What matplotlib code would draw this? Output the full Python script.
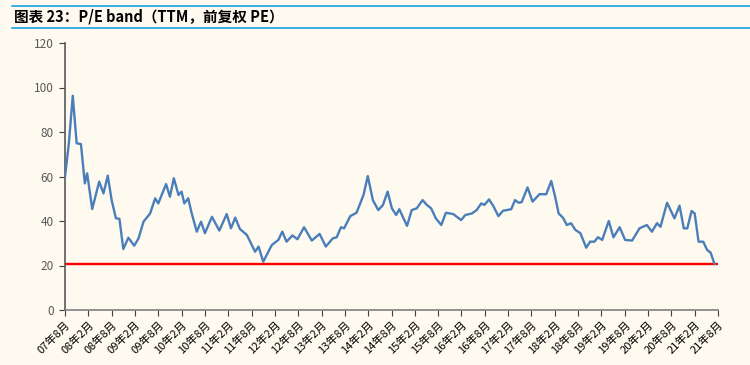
import matplotlib
matplotlib.use("Agg")
import matplotlib.pyplot as plt
from matplotlib.lines import Line2D

plt.rcParams['font.family'] = ['Noto Sans CJK SC', 'DejaVu Sans']

# months elapsed since 2007-08 and the PE values
months = [0, 1, 2, 3, 4.1, 5.1, 5.7, 7, 8.8, 9.9, 11, 12, 13.1, 14, 15, 16.3, 17.8, 18.9,
          20.2, 21.9, 23.2, 24, 26, 27, 28, 29.2, 30, 30.7, 31.7, 32.6, 33.9, 35, 36,
          37.8, 39.7, 41.6, 42.7, 43.8, 45, 46.8, 48.9, 49.8, 51, 53.2, 54.9, 55.9, 57,
          58.5, 59.8, 61.5, 63.5, 65.5, 67.1, 68.9, 69.9, 71, 71.8, 73.4, 75, 76.8, 77.9,
          79.2, 80.6, 81.8, 83, 84.1, 85.2, 86, 88, 89.2, 90.5, 92, 93.1, 94.2, 95.4,
          96.8, 98, 99.9, 101.9, 103, 104.7, 105.9, 107.1, 107.9, 109.1, 110.2, 111.5,
          112.7, 114.8, 115.8, 116.7, 117.5, 119, 120.3, 122.1, 123.8, 125.1, 126.1, 127,
          128.1, 129.1, 130.2, 131.3, 132.6, 134.1, 135.1, 136.2, 137.1, 138.2, 139.9,
          141.1, 142.7, 144.1, 145.9, 147.8, 149.7, 151, 152.3, 153.2, 154.9, 156.8,
          158.1, 159.2, 160.1, 161.2, 162, 163, 164.2, 165.2, 166.1, 167.1]
pe = [59.9, 75, 96.3, 74.9, 74.6, 56.9, 61.4, 45.4, 57.7, 52.4, 60.4, 49.4, 41.2, 41, 27.4,
      32.5, 28.9, 32.1, 39.7, 43.4, 50.2, 47.9, 56.6, 50.9, 59.2, 51.7, 53.2, 47.9, 50.2,
      43.4, 35.2, 39.7, 34.5, 41.9, 35.7, 43.1, 36.7, 41.5, 36.4, 33.7, 26.2, 28.5, 21.7,
      29.2, 31.5, 35.2, 30.7, 33.5, 31.8, 37.2, 31.2, 34.2, 28.5, 32.2, 32.7, 37.2, 36.7,
      42.2, 43.7, 51.7, 60.2, 49.4, 44.9, 47.2, 53.2, 45.7, 42.7, 45.3, 37.8, 44.9, 45.7,
      49.4, 47.2, 45.7, 41.2, 38.2, 43.7, 43.1, 40.4, 42.7, 43.4, 44.9, 47.9, 47.2, 49.7,
      46.7, 42.2, 44.6, 45.3, 49.4, 48.2, 48.5, 55.1, 48.7, 52.1, 52, 58, 50.9, 43.4, 41.5,
      38.2, 39, 36, 34.5, 28, 30.7, 30.7, 32.7, 31.5, 40, 32.7, 37.2, 31.5, 31.2, 36.7,
      38.2, 35.2, 39, 37.4, 48.2, 41.2, 46.9, 36.7, 36.7, 44.5, 43.4, 30.7, 30.7, 27, 25.8,
      20.7]

band_value = 20.6
band_span = [0, 168]

tick_labels = ['07年8月', '08年2月', '08年8月', '09年2月', '09年8月', '10年2月', '10年8月',
               '11年2月', '11年8月', '12年2月', '12年8月', '13年2月', '13年8月', '14年2月',
               '14年8月', '15年2月', '15年8月', '16年2月', '16年8月', '17年2月', '17年8月',
               '18年2月', '18年8月', '19年2月', '19年8月', '20年2月', '20年8月', '21年2月',
               '21年8月']
tick_pos = [6 * i for i in range(len(tick_labels))]

bg = '#FEFAEF'
fig = plt.figure(figsize=(7.5, 3.65), dpi=100, facecolor=bg)
ax = fig.add_axes([65 / 750, 1 - 310 / 365, (718 - 65) / 750, (310 - 43) / 365])
ax.set_facecolor(bg)

ax.plot(months, pe, color='#4A7EBB', lw=1.7, solid_joinstyle='round', zorder=3)
ax.plot(band_span, [band_value, band_value], color='#FF0000', lw=1.7, zorder=2)

ax.set_xlim(0, 168)
ax.set_ylim(0, 120)
ax.set_yticks(range(0, 121, 20))
ax.set_xticks(tick_pos)
ax.set_xticklabels(tick_labels, rotation=45, ha='right', rotation_mode='anchor')

for s in ['top', 'right']:
    ax.spines[s].set_visible(False)
ax.spines['left'].set_color('#595959')
ax.spines['bottom'].set_color('#808080')
ax.spines['left'].set_linewidth(1.2)
ax.spines['bottom'].set_linewidth(1.2)
ax.tick_params(axis='y', direction='out', length=4, colors='#404040', labelcolor='#595959',
               labelsize=8.5, pad=4)
ax.tick_params(axis='x', direction='out', length=4, colors='#404040', labelcolor='#000000',
               labelsize=8, pad=3)

# header: title and blue rules
fig.add_artist(Line2D([12 / 750, 1], [1 - 6 / 365, 1 - 6 / 365], color='#1DA1E2', lw=1.2))
fig.add_artist(Line2D([12 / 750, 1], [1 - 28 / 365, 1 - 28 / 365], color='#1DA1E2', lw=1.2))
fig.text(14 / 750, 1 - 17 / 365, '图表 23：P/E band（TTM，前复权 PE）', fontsize=10.5,
         fontweight='bold', style='italic', va='center', ha='left', color='#000000')

fig.savefig('out.png', dpi=100, facecolor=bg)
